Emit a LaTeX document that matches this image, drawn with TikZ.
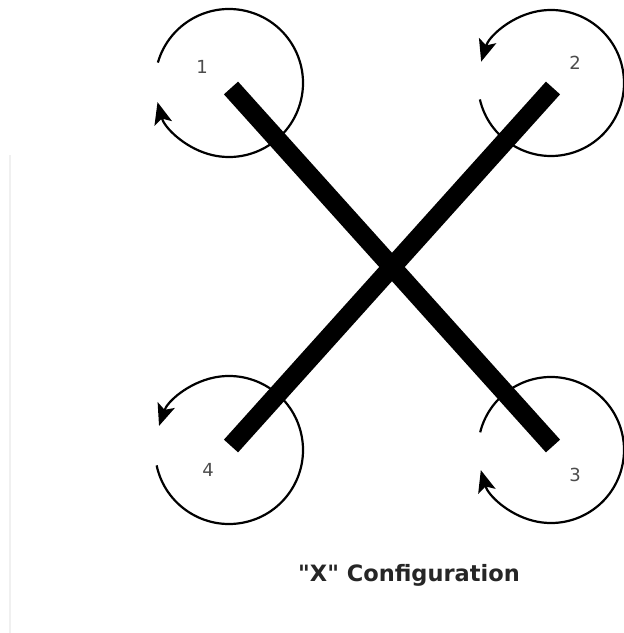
\documentclass[tikz,border=0pt]{standalone}
\usepackage{fontspec}
\setmainfont{DejaVu Sans}
\newfontfamily\plainsans{DejaVu Sans}
\usetikzlibrary{arrows.meta}
\begin{document}
\begin{tikzpicture}[x=1pt,y=1pt,
  rotorarc/.style={line width=2.2pt,-{Stealth[length=22pt,width=18pt,inset=5pt]}},
  armbar/.style={line width=19pt,line cap=butt},
  motorlabel/.style={text=black!70,font=\plainsans\fontsize{18}{20}\selectfont},
  titlelabel/.style={font=\plainsans\fontsize{22.5}{24}\bfseries\selectfont,text=black!85}]
\useasboundingbox[fill=white] (0,0) rectangle (624,633);
% faint edge line
\draw[black!6,line width=1.5pt] (10,0) -- (10,478);
% rotor centres
\coordinate (r1) at (229,550);
\coordinate (r2) at (551,550);
\coordinate (r3) at (551,183);
\coordinate (r4) at (229,183);
% arm ends and hub
\coordinate (hub) at (392,366);
\coordinate (a1) at (231,545);
\coordinate (a2) at (553,545);
\coordinate (a3) at (553,187);
\coordinate (a4) at (231,187);
% arms
\draw[armbar] (a1) -- (a3);
\draw[armbar] (a4) -- (a2);
% rotation arcs
\draw[rotorarc] (r1) ++(164:74) arc[start angle=164,end angle=-165,radius=74];
\draw[rotorarc] (r2) ++(193:73) arc[start angle=193,end angle=523,radius=73];
\draw[rotorarc] (r3) ++(166:73) arc[start angle=166,end angle=-164,radius=73];
\draw[rotorarc] (r4) ++(192:74) arc[start angle=192,end angle=521,radius=74];
% labels
\node[motorlabel] (l1) at (202,566) {1};
\node[motorlabel] (l2) at (575,570) {2};
\node[motorlabel] (l3) at (575,158) {3};
\node[motorlabel] (l4) at (208,163) {4};
\node[titlelabel] (title) at (409,58) {"X" Configuration};
\end{tikzpicture}
\end{document}
